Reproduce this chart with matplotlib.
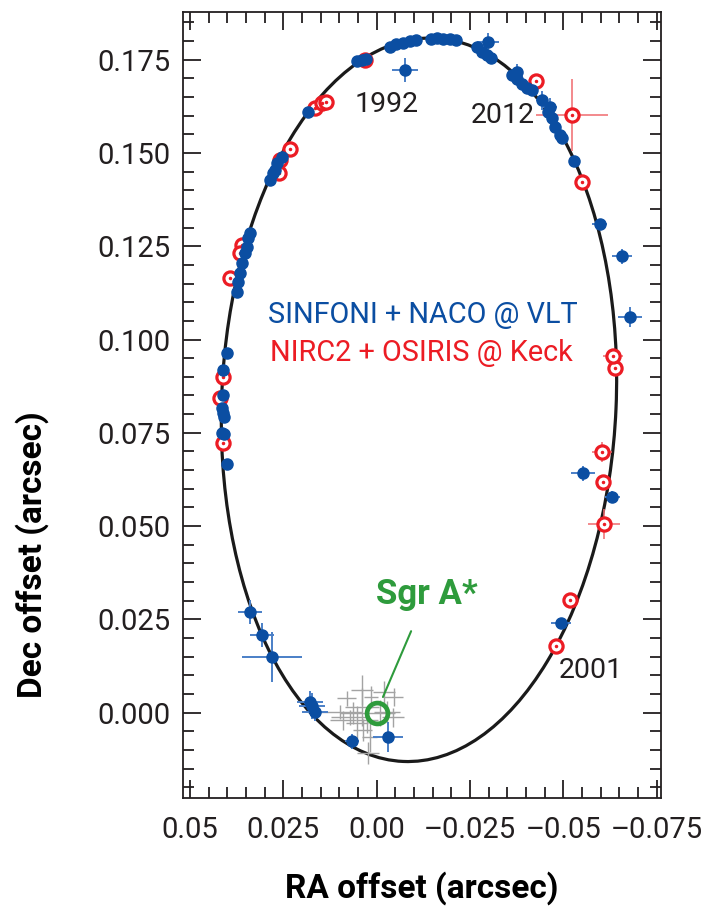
import matplotlib
matplotlib.use("Agg")
import matplotlib.pyplot as plt
from matplotlib.patches import Ellipse
from matplotlib.ticker import FixedLocator, MultipleLocator

plt.rcParams['font.family'] = ['Roboto', 'DejaVu Sans']

# VLT (SINFONI + NACO) positions, arcsec
vlt_ra = [0.0053, 0.0039, 0.0029, -0.0036, -0.0052, -0.0070, -0.0089, -0.0105,
          -0.0146, -0.0162, -0.0178, -0.0196, -0.0212, -0.0269, -0.0282, -0.0295,
          -0.0306, -0.0363, -0.0376, -0.0389, -0.0403, -0.0416, -0.0459, -0.0470,
          -0.0478, -0.0491, -0.0497, -0.0529,
          0.0401, 0.0414, 0.0409, 0.0414, 0.0412, 0.0409, 0.0412, 0.0412, 0.0401,
          0.0374, 0.0372, 0.0366, 0.0361, 0.0353, 0.0348, 0.0345, 0.0339,
          0.0286, 0.0278, 0.0273, 0.0267, 0.0254, 0.0184]
vlt_dec = [0.1746, 0.1749, 0.1751, 0.1783, 0.1791, 0.1794, 0.1799, 0.1802,
           0.1805, 0.1807, 0.1805, 0.1805, 0.1802, 0.1783, 0.1770, 0.1762,
           0.1754, 0.1708, 0.1698, 0.1684, 0.1673, 0.1668, 0.1609, 0.1593,
           0.1569, 0.1547, 0.1540, 0.1478,
           0.0666, 0.0749, 0.0746, 0.0816, 0.0803, 0.0792, 0.0851, 0.0918, 0.0964,
           0.1127, 0.1154, 0.1178, 0.1205, 0.1232, 0.1248, 0.1272, 0.1285,
           0.1427, 0.1446, 0.1454, 0.1472, 0.1488, 0.1609]

# VLT points with visible error bars
vlte_ra = [-0.0298, -0.0076, -0.0376, -0.0443, -0.0464, -0.0598, -0.0657, -0.0679,
           -0.0553, -0.0631, -0.0494, -0.0030, 0.0066, 0.0165, 0.0173, 0.0179,
           0.0280, 0.0307, 0.0339]
vlte_dec = [0.1797, 0.1722, 0.1718, 0.1641, 0.1622, 0.1309, 0.1223, 0.1060,
            0.0642, 0.0578, 0.0240, -0.0065, -0.0076, 0.0002, 0.0018, 0.0029,
            0.0149, 0.0208, 0.0270]
vlte_xerr = [0.0030, 0.0035, 0.0015, 0.0015, 0.0020, 0.0020, 0.0027, 0.0032,
             0.0032, 0.0020, 0.0027, 0.0040, 0.0020, 0.0035, 0.0035, 0.0035,
             0.0080, 0.0033, 0.0033]
vlte_yerr = [0.0025, 0.0032, 0.0020, 0.0025, 0.0025, 0.0008, 0.0020, 0.0027,
             0.0020, 0.0015, 0.0006, 0.0040, 0.0020, 0.0025, 0.0035, 0.0030,
             0.0067, 0.0033, 0.0033]

# Keck (NIRC2 + OSIRIS) positions
keck_ra = [0.0031, 0.0165, 0.0146, 0.0136, 0.0232, 0.0259, 0.0262, 0.0361,
           0.0366, 0.0393, 0.0412, 0.0420, 0.0412, -0.0480, -0.0518, -0.0609,
           -0.0606, -0.0603, -0.0639, -0.0634, -0.0550, -0.0523, -0.0427]
keck_dec = [0.1749, 0.1620, 0.1633, 0.1636, 0.1510, 0.1481, 0.1446, 0.1253,
            0.1232, 0.1164, 0.0899, 0.0843, 0.0723, 0.0179, 0.0302, 0.0506,
            0.0618, 0.0698, 0.0923, 0.0955, 0.1421, 0.1601, 0.1692]
keck_xerr = [0.0005, 0.0005, 0.0005, 0.0005, 0.0005, 0.0005, 0.0005, 0.0005,
             0.0005, 0.0005, 0.0005, 0.0005, 0.0005, 0.0005, 0.0005, 0.0043,
             0.0005, 0.0027, 0.0005, 0.0027, 0.0005, 0.0096, 0.0005]
keck_yerr = [0.0005, 0.0005, 0.0005, 0.0005, 0.0005, 0.0005, 0.0005, 0.0005,
             0.0005, 0.0005, 0.0005, 0.0005, 0.0005, 0.0005, 0.0005, 0.0040,
             0.0005, 0.0027, 0.0005, 0.0005, 0.0005, 0.0096, 0.0005]

# Sgr A* flare positions (grey crosses)
flare_ra = [0.0080, 0.0039, 0.0015, -0.0046, 0.0098, 0.0063, 0.0039, 0.0026,
            0.0037, 0.0018, 0.0023, -0.0009, -0.0028, 0.0053, -0.0044, 0.0072,
            0.0090, -0.0020]
flare_dec = [0.0039, 0.0061, 0.0042, 0.0042, 0.0002, 0.0000, 0.0015, -0.0020,
             -0.0046, -0.0065, -0.0108, 0.0000, 0.0002, -0.0028, -0.0012, -0.0012,
             -0.0020, 0.0055]
flare_xerr = [0.0025, 0.0030, 0.0020, 0.0025, 0.0060, 0.0035, 0.0045, 0.0030,
              0.0025, 0.0020, 0.0030, 0.0040, 0.0035, 0.0030, 0.0030, 0.0050,
              0.0035, 0.0030]
flare_yerr = [0.0020, 0.0040, 0.0030, 0.0025, 0.0020, 0.0030, 0.0050, 0.0035,
              0.0030, 0.0040, 0.0030, 0.0035, 0.0030, 0.0045, 0.0025, 0.0020,
              0.0025, 0.0030]

# best-fit orbit (projected ellipse)
orbit_center = (-0.01135, 0.08385)
orbit_width = 0.1057
orbit_height = 0.1940
orbit_angle = 2.5

year_labels = ['1992', '2012', '2001']
year_ra = [-0.0028, -0.0338, -0.0574]
year_dec = [0.1631, 0.1599, 0.0114]

xticks = [0.05, 0.025, 0.0, -0.025, -0.05, -0.075]
xticklabels = ['0.05', '0.025', '0.00', '\u20130.025', '\u20130.05', '\u20130.075']
yticks = [0.0, 0.025, 0.05, 0.075, 0.1, 0.125, 0.15, 0.175]
yticklabels = ['0.000', '0.025', '0.050', '0.075', '0.100', '0.125', '0.150', '0.175']

blue = '#0b4ea2'
blue_err = '#4a7fc7'
red = '#ec1c24'
red_err = '#f06a6e'
green = '#2e9b3c'
grey = '#a3a3a3'

fig = plt.figure(figsize=(7.04, 9.09), dpi=100)
ax = fig.add_axes([0.2595, 0.1221, 0.6794, 0.8647])

ax.add_patch(Ellipse(orbit_center, orbit_width, orbit_height, angle=orbit_angle,
                     fill=False, edgecolor='#1a1a1a', linewidth=2.3, zorder=2))

ax.errorbar(flare_ra, flare_dec, xerr=flare_xerr, yerr=flare_yerr, fmt='none',
            ecolor=grey, elinewidth=1.0, capsize=0, zorder=3)

ax.errorbar(vlte_ra, vlte_dec, xerr=vlte_xerr, yerr=vlte_yerr, fmt='none',
            ecolor=blue_err, elinewidth=1.4, capsize=0, zorder=4)
ax.errorbar(keck_ra, keck_dec, xerr=keck_xerr, yerr=keck_yerr, fmt='none',
            ecolor=red_err, elinewidth=1.1, capsize=0, zorder=4)

ax.plot(keck_ra, keck_dec, 'o', ms=9.5, mfc='white', mec=red, mew=2.3,
        linestyle='none', zorder=5)
ax.plot(keck_ra, keck_dec, 'o', ms=1.5, mfc=red, mec=red, linestyle='none', zorder=6)
ax.plot(vlt_ra + vlte_ra, vlt_dec + vlte_dec, 'o', ms=8, color=blue,
        linestyle='none', zorder=7)

# Sgr A*
ax.plot([0.0], [0.0], 'o', ms=15, mfc='none', mec=green, mew=3.4, zorder=8)
ax.annotate('Sgr A*', xy=(-0.0017, 0.0042), xytext=(-0.0135, 0.0318),
            color=green, fontsize=25, fontweight='bold', ha='center', va='center',
            arrowprops=dict(arrowstyle='-', color=green, lw=1.5,
                            shrinkA=14, shrinkB=0), zorder=9)

for lab, x, y in zip(year_labels, year_ra, year_dec):
    ax.text(x, y, lab, fontsize=20.5, color='#231f20', ha='center', va='center')

ax.text(-0.0124, 0.1065, 'SINFONI + NACO @ VLT', color=blue, fontsize=20.8,
        ha='center', va='center')
ax.text(-0.0119, 0.0964, 'NIRC2 + OSIRIS @ Keck', color=red, fontsize=20.8,
        ha='center', va='center')

ax.set_xlim(0.05196, -0.0762)
ax.set_ylim(-0.0228, 0.1877)
ax.set_aspect('equal', adjustable='box')

ax.xaxis.set_major_locator(FixedLocator(xticks))
ax.set_xticklabels(xticklabels)
ax.yaxis.set_major_locator(FixedLocator(yticks))
ax.set_yticklabels(yticklabels)
ax.xaxis.set_minor_locator(MultipleLocator(0.005))
ax.yaxis.set_minor_locator(MultipleLocator(0.005))
ax.tick_params(which='both', direction='in', top=True, right=True,
               width=1.3, colors='#231f20', labelsize=21)
ax.tick_params(axis='y', pad=9)
ax.tick_params(axis='x', pad=13)
ax.tick_params(which='major', length=13)
ax.tick_params(which='minor', length=8)
for s in ax.spines.values():
    s.set_linewidth(1.3)
    s.set_color('#231f20')

ax.set_xlabel('RA offset (arcsec)', fontsize=24, fontweight='bold', labelpad=20)
fig.text(0.045, 1 - 555 / 909, 'Dec offset (arcsec)', rotation=90, fontsize=24,
         fontweight='bold', ha='center', va='center')

fig.savefig('out.png', dpi=100)
